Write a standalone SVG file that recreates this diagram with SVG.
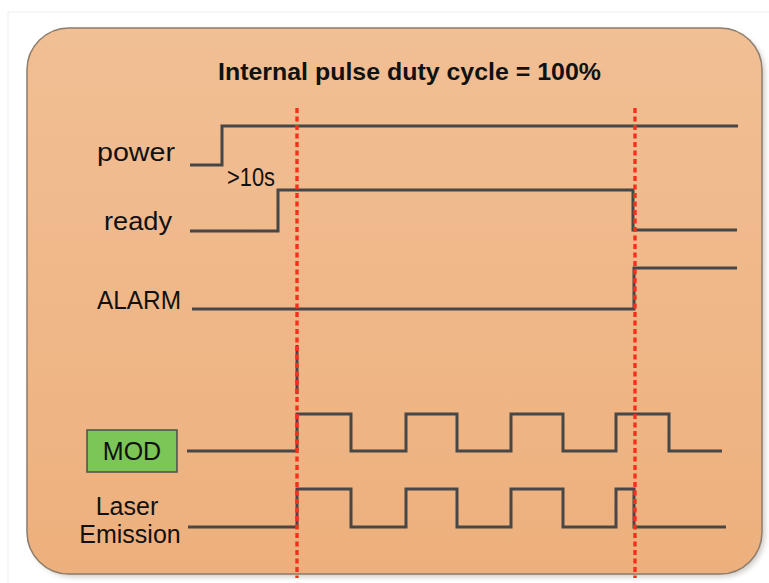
<svg xmlns="http://www.w3.org/2000/svg" width="769" height="583" viewBox="0 0 769 583">
  <defs>
    <linearGradient id="bg" x1="0" y1="0" x2="0" y2="1">
      <stop offset="0" stop-color="#F1BF94"/>
      <stop offset="1" stop-color="#EDB07D"/>
    </linearGradient>
    <filter id="sh" x="-5%" y="-5%" width="110%" height="110%">
      <feGaussianBlur stdDeviation="2.5"/>
    </filter>
  </defs>
  <style>
    .sig { fill: none; stroke: #474747; stroke-width: 3; stroke-linejoin: miter; }
    .marker { fill: none; stroke: #FA2E1C; stroke-width: 3.4; stroke-dasharray: 5 3.5; }
    .lbl { font-family: "Liberation Sans", Arial, sans-serif; font-size: 25px; fill: #111; }
    .title { font-family: "Liberation Sans", Arial, sans-serif; font-size: 24px; font-weight: bold; fill: #111; }
  </style>
  <rect x="0" y="0" width="769" height="583" fill="#ffffff"/>
  <rect x="8" y="12" width="770" height="580" fill="#ffffff" stroke="#eeeeee" stroke-width="1"/>
  <rect x="30" y="31" width="735" height="546" rx="42" ry="42" fill="#9a8f86" opacity="0.45" filter="url(#sh)"/>
  <rect id="panel" x="27" y="28" width="735" height="546" rx="42" ry="42" fill="url(#bg)" stroke="#8c7c6c" stroke-width="1.5"/>

  <g id="title">
    <text class="title" x="218" y="80" textLength="383" lengthAdjust="spacingAndGlyphs">Internal pulse duty cycle = 100%</text>
  </g>

  <g id="label-power"><text class="lbl" x="97" y="161" textLength="78" lengthAdjust="spacingAndGlyphs">power</text></g>
  <g id="label-ready"><text class="lbl" x="104" y="230" textLength="68" lengthAdjust="spacingAndGlyphs">ready</text></g>
  <g id="label-alarm"><text class="lbl" x="97" y="309" textLength="84" lengthAdjust="spacingAndGlyphs">ALARM</text></g>
  <g id="label-mod">
    <rect x="87" y="430" width="90" height="42" fill="#7CC557" stroke="#4d4d4d" stroke-width="1.5"/>
    <text class="lbl" x="132" y="460" text-anchor="middle">MOD</text>
  </g>
  <g id="label-laser">
    <text class="lbl" x="127" y="515" text-anchor="middle" font-size="24">Laser</text>
    <text class="lbl" x="130" y="543" text-anchor="middle" font-size="24">Emission</text>
  </g>
  <g id="label-delay">
    <text class="lbl" x="227" y="186" font-size="19" textLength="48" lengthAdjust="spacingAndGlyphs">&gt;10s</text>
  </g>

  <g id="connectors">
    <polyline id="power" class="sig" points="190,165 222,165 222,126 738,126"/>
    <polyline id="ready" class="sig" points="190,231 278,231 278,190 633,190 633,230 737,230"/>
    <polyline id="alarm" class="sig" points="192,309 634,309 634,268 737,268"/>
    <line class="sig" x1="297" y1="345" x2="297" y2="394"/>
    <polyline id="mod" class="sig" points="187,451 297,451 297,414 351,414 351,451 406,451 406,414 457,414 457,451 511,451 511,414 563,414 563,451 616,451 616,414 669,414 669,451 722,451"/>
    <polyline id="laser" class="sig" points="188,527 297,527 297,489 351,489 351,527 406,527 406,489 457,489 457,527 511,527 511,489 563,489 563,527 616,527 616,489 634,489 634,527 726,527"/>
    <line class="marker" x1="297" y1="108" x2="297" y2="578"/>
    <line class="marker" x1="635" y1="108" x2="635" y2="578"/>
  </g>
</svg>
